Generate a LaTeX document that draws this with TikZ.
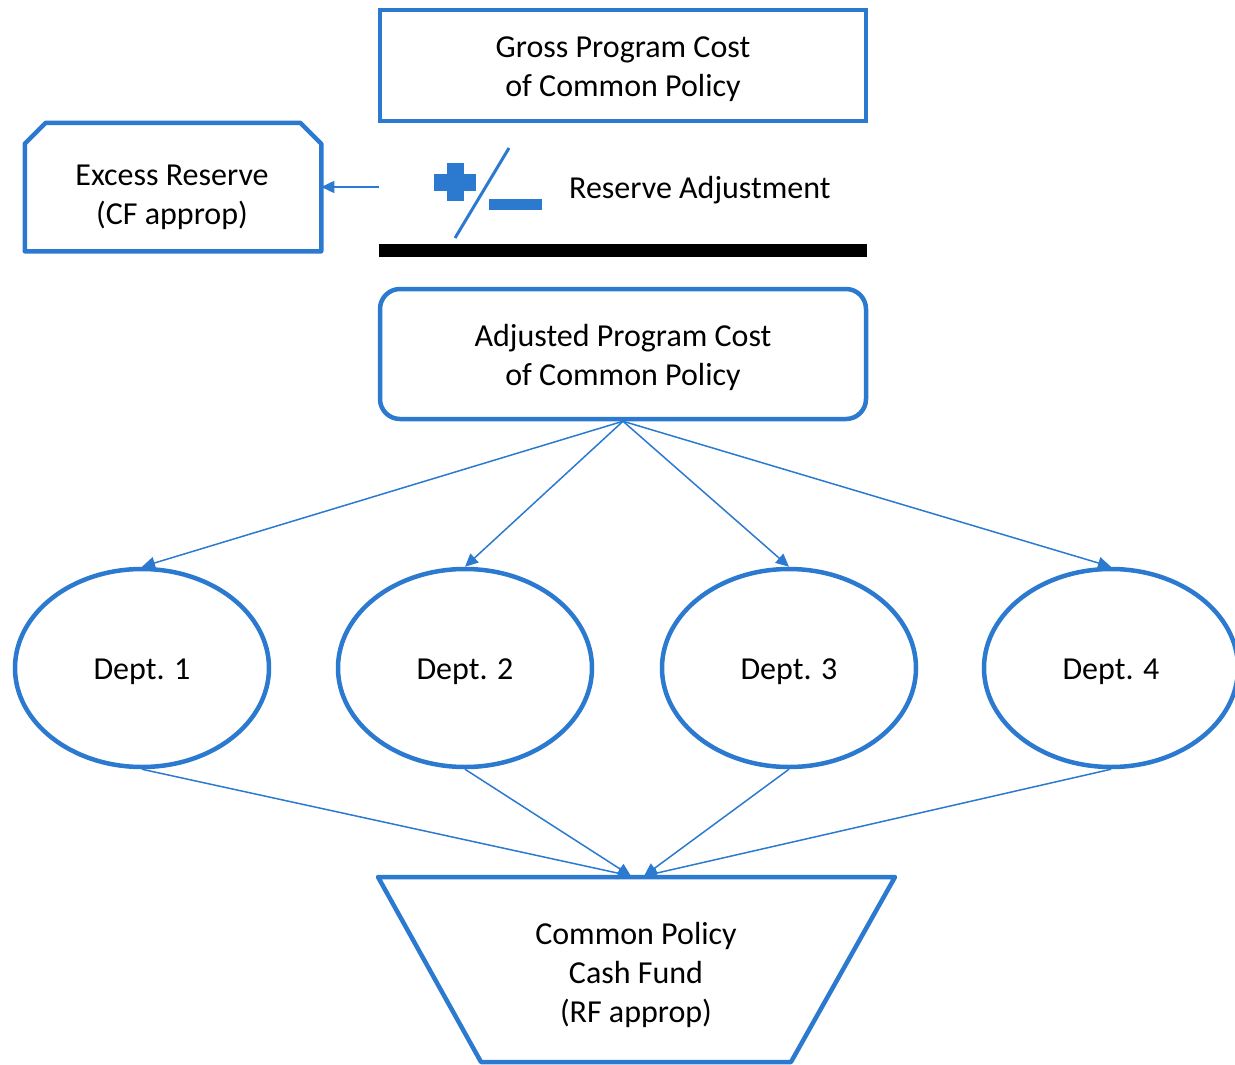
\documentclass[tikz,border=0pt]{standalone}
\usepackage{fontspec}
\setmainfont{Carlito}
\usetikzlibrary{shapes.geometric,arrows.meta}
\definecolor{bl}{RGB}{43,122,208}
\begin{document}
\begin{tikzpicture}[x=1pt,y=-1pt,
  lbl/.style={align=center,font=\fontsize{32}{39}\selectfont,inner sep=0pt},
  boxx/.style={draw=bl,line width=4.5pt,inner sep=0pt,outer sep=2.25pt},
  conn/.style={draw=bl,line width=1.5pt,-{Triangle[length=13pt,width=12pt]}},
  dept/.style={ellipse,draw=bl,line width=4.5pt,minimum width=254pt,minimum height=198pt,inner sep=0pt,outer sep=2.25pt}]
\useasboundingbox (0,0) rectangle (1235,1065);
% Gross box
\node[boxx,minimum width=486pt,minimum height=111pt] (gross) at (623,65.5) {};
\node[lbl] (grosstxt) at (623,69) {Gross Program Cost\\of Common Policy};
% Excess reserve box (chamfered top corners)
\node[inner sep=0pt,outer sep=2.25pt,minimum width=292pt,minimum height=124pt] (ex) at (173,187) {};
\draw[bl,line width=4.5pt,line join=round]
  (ex.south west) -- ([yshift=-21pt]ex.north west) -- ([xshift=21pt]ex.north west)
  -- ([xshift=-21pt]ex.north east) -- ([yshift=-21pt]ex.north east) -- (ex.south east) -- cycle;
\node[lbl] (extxt) at (172,197) {Excess Reserve\\(CF approp)};
% plus / minus symbol
\fill[bl] (434,174) rectangle (476,191);
\fill[bl] (447,163) rectangle (464,201);
\fill[bl] (489,199) rectangle (542,210);
\coordinate (sl1) at (509,148);
\coordinate (sl2) at (455,238);
\draw[bl,line width=3pt] (sl1) -- (sl2);
\node[lbl,anchor=west] (radj) at (569,190) {Reserve Adjustment};
\coordinate (rstart) at (379,187);
\draw[conn] (rstart) -- (ex.east);
% black bar
\fill[black] (379,244) rectangle (867,257);
% Adjusted box
\node[boxx,rounded corners=20pt,minimum width=486pt,minimum height=130pt] (adj) at (623,354) {};
\node[lbl] (adjtxt) at (623,357) {Adjusted Program Cost\\of Common Policy};
% Departments
\node[dept] (d1) at (142,668) {};
\node[dept] (d2) at (465,668) {};
\node[dept] (d3) at (789,668) {};
\node[dept] (d4) at (1111,668) {};
\node[lbl] at (142,672) {Dept. 1};
\node[lbl] at (465,672) {Dept. 2};
\node[lbl] at (789,672) {Dept. 3};
\node[lbl] at (1111,672) {Dept. 4};
\foreach \d in {d1,d2,d3,d4}{\draw[conn] (adj.south) -- (\d.north);}
% Cash fund trapezoid
\coordinate (tl) at (378,877);
\coordinate (tr) at (895,877);
\coordinate (br) at (791,1062);
\coordinate (bll) at (481,1062);
\draw[bl,line width=4.5pt,line join=round] (tl) -- (tr) -- (br) -- (bll) -- cycle;
\node[lbl] (cash) at (636,975) {Common Policy\\Cash Fund\\(RF approp)};
\coordinate (t1) at (631,876);
\coordinate (t2) at (644,876);
\draw[conn] (d1.south) -- (t1);
\draw[conn] (d2.south) -- (t1);
\draw[conn] (d3.south) -- (t2);
\draw[conn] (d4.south) -- (t2);
\end{tikzpicture}
\end{document}
